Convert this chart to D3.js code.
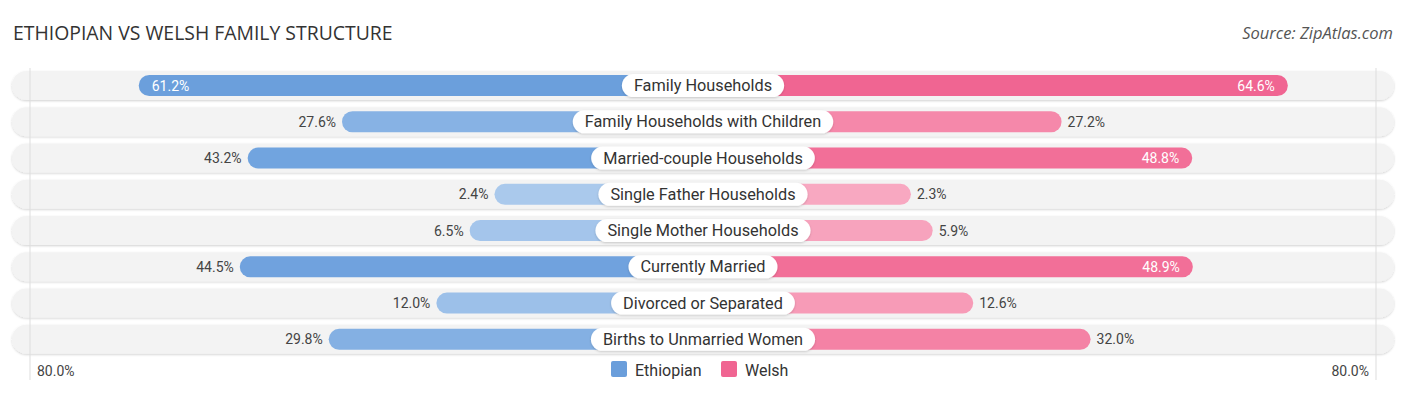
<!DOCTYPE html>
<html>
<head>
<meta charset="utf-8">
<script src="https://cdn.jsdelivr.net/npm/d3@7"></script>
<style>
    body { margin: 0; background: #fff; }
    svg { display: block; font-family: Roboto, "Noto Sans", sans-serif; }
</style>
</head>
<body>
<svg id="chart" width="1406" height="395"></svg>
<script>
const categories = [
    'Family Households',
    'Family Households with Children',
    'Married-couple Households',
    'Single Father Households',
    'Single Mother Households',
    'Currently Married',
    'Divorced or Separated',
    'Births to Unmarried Women',
]
const ethiopian = [61.2, 27.6, 43.2, 2.4, 6.5, 44.5, 12.0, 29.8]
const welsh = [64.6, 27.2, 48.8, 2.3, 5.9, 48.9, 12.6, 32.0]
const seriesNames = ['Ethiopian', 'Welsh']
const axisMax = 80

const width = 1406
const cx = 703
const svg = d3.select('#chart')

// bar length starts past the centre label, then grows with the value
const len = d3.scaleLinear().domain([0, axisMax]).range([194, 678])
const y = d3.scaleBand().domain(categories).range([67.4, 357.5]).paddingInner(0)

const blueCol = d3.scaleLinear().domain([0, 45, 65]).range(['#adcbed', '#6fa2de', '#6a9edb'])
const pinkCol = d3.scaleLinear().domain([0, 45, 65]).range(['#f8abc3', '#f37199', '#f06592'])

const defs = svg.append('defs')
const f = defs.append('filter').attr('id', 'sh').attr('x', '-5%').attr('y', '-30%').attr('width', '110%').attr('height', '160%')
f.append('feDropShadow').attr('dx', 0).attr('dy', 1).attr('stdDeviation', 1).attr('flood-color', '#000').attr('flood-opacity', 0.18)

// title + source
svg.append('text').attr('x', 13).attr('y', 40)
    .attr('font-size', 19.4).attr('fill', '#333')
    .attr('font-family', '"Open Sans", sans-serif')
    .text('ETHIOPIAN VS WELSH FAMILY STRUCTURE')
svg.append('text').attr('x', 1393).attr('y', 39).attr('text-anchor', 'end')
    .attr('font-size', 16.5).attr('font-style', 'italic').attr('fill', '#555')
    .attr('font-family', '"Open Sans", sans-serif')
    .text('Source: ZipAtlas.com')

const rowH = 29
const barH = 21
const rows = svg.append('g')

categories.forEach((c) => {
    const yc = y(c) + y.bandwidth() / 2
    rows.append('rect')
        .attr('x', 12).attr('y', yc - rowH / 2).attr('width', width - 24).attr('height', rowH)
        .attr('rx', rowH / 2).attr('fill', '#f3f3f3').attr('filter', 'url(#sh)')
})

// grid lines at the 80% marks
;[cx - 673, cx + 673].forEach((gx) => {
    rows.append('line').attr('x1', gx).attr('x2', gx).attr('y1', 68).attr('y2', 380)
        .attr('stroke', '#ddd').attr('stroke-width', 1)
})

categories.forEach((c, i) => {
    const yc = y(c) + y.bandwidth() / 2
    const g = rows.append('g')

    const lv = ethiopian[i]
    const rv = welsh[i]
    const lw = len(lv)
    const rw = len(rv)

    g.append('rect')
        .attr('x', cx - lw).attr('y', yc - barH / 2).attr('width', lw).attr('height', barH)
        .attr('rx', barH / 2).attr('fill', blueCol(lv))
    g.append('rect')
        .attr('x', cx).attr('y', yc - barH / 2).attr('width', rw).attr('height', barH)
        .attr('rx', barH / 2).attr('fill', pinkCol(rv))

    // value labels: inside when bar is big, outside otherwise
    const lin = lv > 46
    g.append('text')
        .attr('x', lin ? cx - lw + 13 : cx - lw - 6)
        .attr('y', yc + 5)
        .attr('text-anchor', lin ? 'start' : 'end')
        .attr('font-size', 14)
        .attr('fill', lin ? '#fff' : '#444')
        .text(lv.toFixed(1) + '%')
    const rin = rv > 46
    g.append('text')
        .attr('x', rin ? cx + rw - 13 : cx + rw + 6)
        .attr('y', yc + 5)
        .attr('text-anchor', rin ? 'end' : 'start')
        .attr('font-size', 14)
        .attr('fill', rin ? '#fff' : '#444')
        .text(rv.toFixed(1) + '%')

    // centre label pill
    const t = g.append('text')
        .attr('x', cx).attr('y', yc + 5.5)
        .attr('text-anchor', 'middle')
        .attr('font-size', 16.3).attr('fill', '#333')
        .text(c)
    const tw = t.node().getComputedTextLength()
    g.insert('rect', 'text:last-of-type')
        .attr('x', cx - tw / 2 - 12).attr('y', yc - 11.5)
        .attr('width', tw + 24).attr('height', 23)
        .attr('rx', 11.5).attr('fill', '#fff')
        .attr('filter', 'url(#sh)')
})

// axis labels
svg.append('text').attr('x', 37).attr('y', 376).attr('font-size', 14).attr('fill', '#444').text(axisMax.toFixed(1) + '%')
svg.append('text').attr('x', 1369).attr('y', 376).attr('text-anchor', 'end')
    .attr('font-size', 14).attr('fill', '#444').text(axisMax.toFixed(1) + '%')

// legend
const legendCols = ['#6a9edb', '#f06592']
const lg = svg.append('g')
const lx = [611, 721]
seriesNames.forEach((s, i) => {
    lg.append('rect').attr('x', lx[i]).attr('y', 361).attr('width', 16).attr('height', 16)
        .attr('rx', 2).attr('fill', legendCols[i])
    lg.append('text').attr('x', lx[i] + 24).attr('y', 375.5)
        .attr('font-size', 16).attr('fill', '#333').text(s)
})
</script>
</body>
</html>
